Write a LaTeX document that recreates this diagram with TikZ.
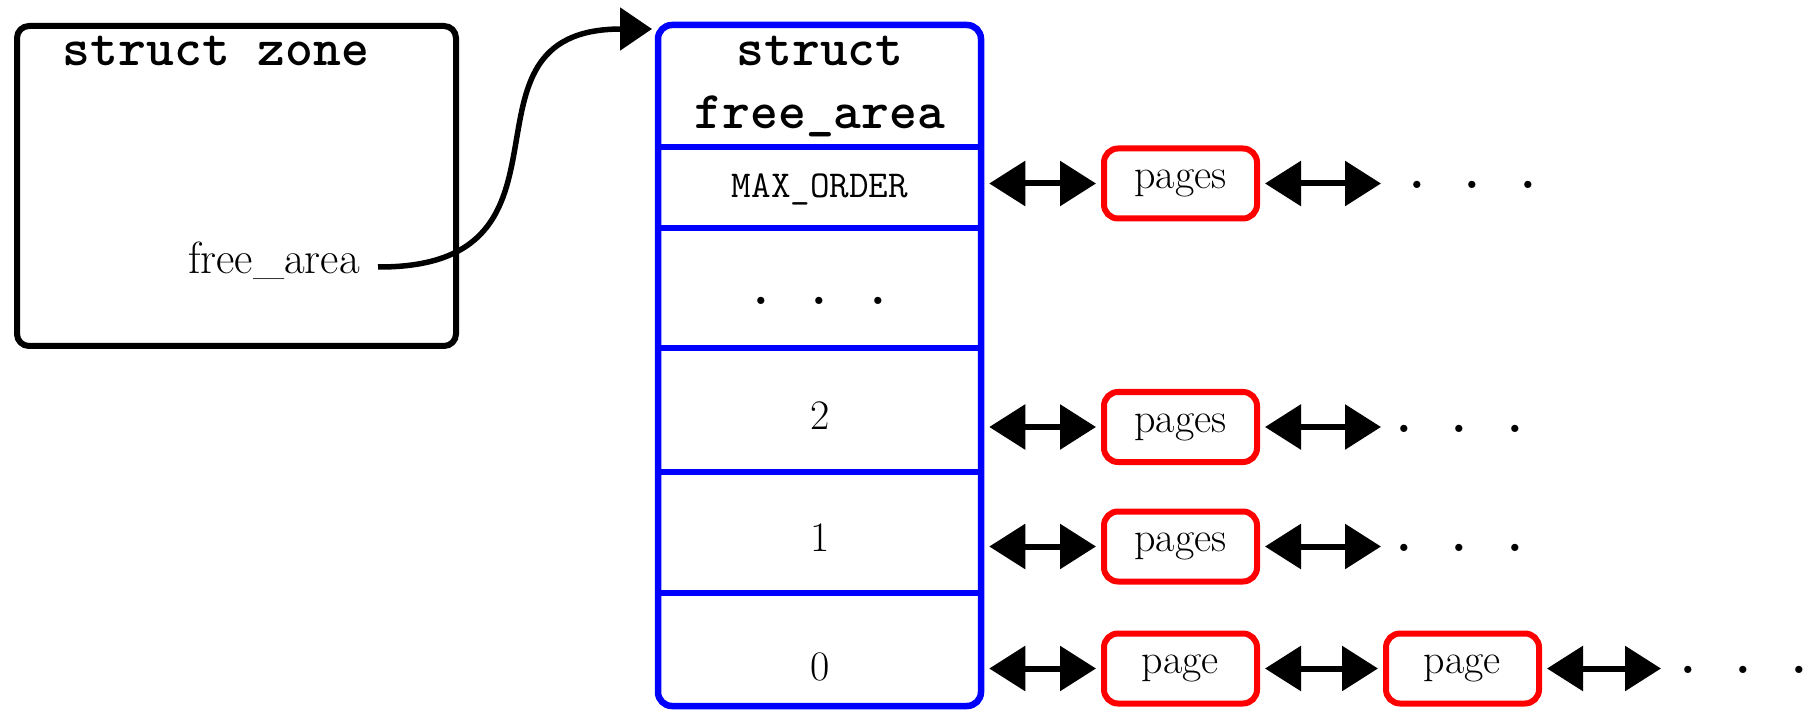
\documentclass[tikz,border=0pt]{standalone}
\usepackage{fontspec}
\usetikzlibrary{arrows.meta}
\newcommand{\rowdots}[1]{.\kern#1.\kern#1.}
\begin{document}
\begin{tikzpicture}[x=1pt,y=-1pt,
  zonebox/.style={draw=black, line width=6pt, rounded corners=12pt, minimum width=439pt, minimum height=320pt, inner sep=0pt},
  areabox/.style={draw=blue, line width=6.5pt, rounded corners=14pt, minimum width=323pt, minimum height=681pt, inner sep=0pt},
  divider/.style={draw=blue, line width=6.5pt},
  pagebox/.style={draw=red, line width=6pt, rounded corners=14pt, minimum width=153pt, minimum height=70pt, inner sep=0pt, font=\fontsize{42}{48}\selectfont},
  ttbold/.style={font=\fontsize{53}{60}\selectfont\ttfamily\bfseries, inner sep=0pt},
  ttlight/.style={font=\fontsize{38}{44}\selectfont\ttfamily, inner sep=0pt},
  rmtext/.style={font=\fontsize{42}{48}\selectfont, inner sep=0pt},
  dottext/.style={font=\fontsize{50}{56}\selectfont\bfseries, inner sep=0pt, anchor=base west},
  dbl/.style={{Triangle[length=36pt,width=44pt]}-{Triangle[length=36pt,width=44pt]}, line width=6pt, shorten <=5pt, shorten >=5pt},
  conn/.style={-{Triangle[length=32pt,width=42pt]}, line width=5.5pt},
]
\useasboundingbox (0,0) rectangle (1808,711);

% struct zone
\node[zonebox] (zone) at (236.5,186) {};
\node[ttbold, anchor=base] (ztitle) at (216,66) {struct zone};
\node[rmtext, anchor=base east, font=\fontsize{45}{50}\selectfont] (zfa) at (360,274) {free\_area};
\coordinate (src) at (378,267);

% struct free_area
\node[areabox] (fa) at (819.5,365.5) {};
\foreach \yy in {147,228,348,472,593}
  \draw[divider] (fa.west |- 0,\yy) -- (fa.east |- 0,\yy);
\coordinate (tgt) at (652,29);
\draw[conn] (src) .. controls (600,268) and (440,29) .. (tgt);

\node[ttbold, anchor=base] (fah1) at (820,66) {struct};
\node[ttbold, anchor=base] (fah2) at (820,129) {free\_area};
\node[ttlight, anchor=base] (lmax) at (820,198) {MAX\_ORDER};
\node[dottext] (ldots) at (753,305) {\rowdots{43pt}};
\node[rmtext, anchor=base] (l2) at (820,429) {2};
\node[rmtext, anchor=base] (l1) at (820,551) {1};
\node[rmtext, anchor=base] (l0) at (820,680) {0};

% pages
\node[pagebox] (pmax) at (1180.5,183.5) {pages};
\node[pagebox] (p2) at (1180.5,427) {pages};
\node[pagebox] (p1) at (1180.5,546.5) {pages};
\node[pagebox] (p0a) at (1180.5,668.5) {page};
\node[pagebox] (p0b) at (1462.5,668.5) {page};

\coordinate (emax) at (1386,183.5);
\coordinate (e2) at (1386,427);
\coordinate (e1) at (1386,546.5);
\coordinate (e0) at (1666,668.5);

\draw[dbl] (fa.east |- pmax) -- (pmax.west);
\draw[dbl] (fa.east |- p2) -- (p2.west);
\draw[dbl] (fa.east |- p1) -- (p1.west);
\draw[dbl] (fa.east |- p0a) -- (p0a.west);
\draw[dbl] (pmax.east) -- (emax);
\draw[dbl] (p2.east) -- (e2);
\draw[dbl] (p1.east) -- (e1);
\draw[dbl] (p0a.east) -- (p0b.west);
\draw[dbl] (p0b.east) -- (e0);

\node[dottext] (dmax) at (1409,189) {\rowdots{40pt}};
\node[dottext] (d2) at (1396,432) {\rowdots{40pt}};
\node[dottext] (d1) at (1396,551.5) {\rowdots{40pt}};
\node[dottext] (d0) at (1680,673.5) {\rowdots{40pt}};
\end{tikzpicture}
\end{document}
